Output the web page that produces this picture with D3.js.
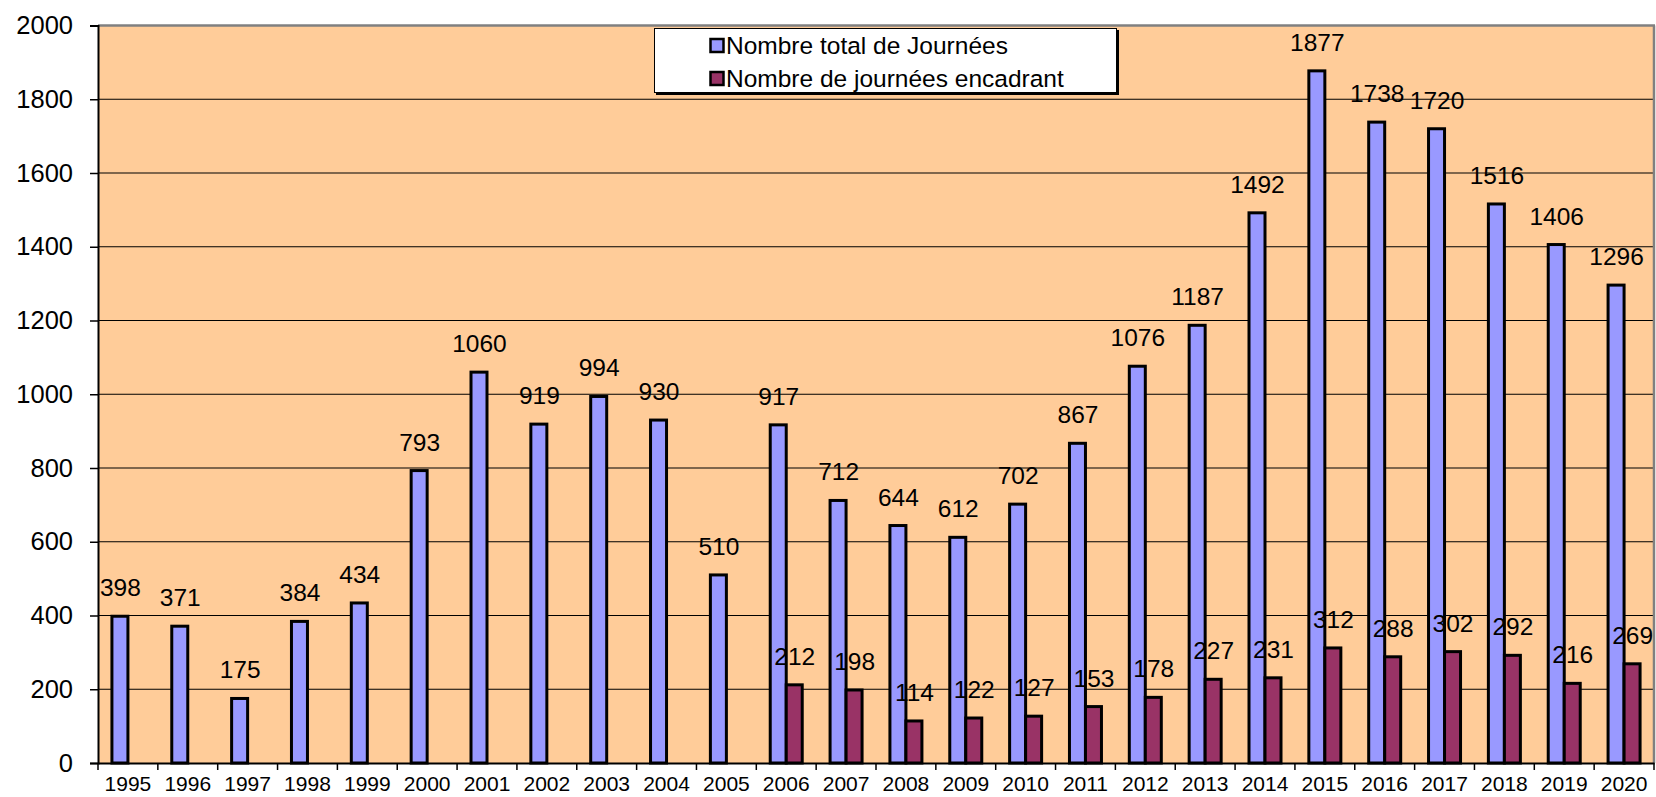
<!DOCTYPE html>
<html><head><meta charset="utf-8">
<script src="https://cdn.jsdelivr.net/npm/d3@7"></script>
<style>
html,body{margin:0;padding:0;background:#fff;}
svg{display:block;font-family:"Liberation Sans",Arial,sans-serif;}
</style></head>
<body><svg id="chart" width="1656" height="797"></svg>
<script>
const years = ["1995","1996","1997","1998","1999","2000","2001","2002","2003","2004","2005","2006","2007","2008","2009","2010","2011","2012","2013","2014","2015","2016","2017","2018","2019","2020"];
const totalDays = [398,371,175,384,434,793,1060,919,994,930,510,917,712,644,612,702,867,1076,1187,1492,1877,1738,1720,1516,1406,1296];
const supervisorDays = [null,null,null,null,null,null,null,null,null,null,null,212,198,114,122,127,153,178,227,231,312,288,302,292,216,269];
const seriesNames = ["Nombre total de Journées","Nombre de journées encadrant"];
const seriesColors = ["#9999FF","#993366"];
const yTicks = [0,200,400,600,800,1000,1200,1400,1600,1800,2000];

const svg = d3.select("#chart");
const L = 98, R = 1654, T = 25.5, B = 763;

const x = d3.scaleBand().domain(years).range([L, R]).padding(0);
const y = d3.scaleLinear().domain([0, 2000]).range([B, T]);
const barW = 16;
const inner = d3.scaleBand().domain([0,1]).range([0, barW*2]);
const off = (x.bandwidth() - barW*2) / 2;

// background
svg.append("rect").attr("x", L).attr("y", T).attr("width", R - L).attr("height", B - T).attr("fill", "#FFCC99");

// gridlines
svg.append("g").selectAll("line").data(yTicks.filter(d => d > 0 && d < 2000)).join("line")
  .attr("x1", L).attr("x2", R).attr("y1", d => y(d)).attr("y2", d => y(d))
  .attr("stroke", "#000").attr("stroke-width", 1.2);

// top and right border (grey)
svg.append("line").attr("x1", L).attr("x2", R + 1).attr("y1", T).attr("y2", T).attr("stroke", "#808080").attr("stroke-width", 2.5);
svg.append("line").attr("x1", R).attr("x2", R).attr("y1", T).attr("y2", B).attr("stroke", "#808080").attr("stroke-width", 2.5);

const series = [totalDays, supervisorDays];
const gBars = svg.append("g");
series.forEach((vals, si) => {
  gBars.append("g").selectAll("rect").data(years.map((yr, i) => ({yr, v: vals[i]})).filter(d => d.v != null)).join("rect")
    .attr("x", d => x(d.yr) + off + inner(si))
    .attr("y", d => y(d.v))
    .attr("width", barW)
    .attr("height", d => B - y(d.v))
    .attr("fill", seriesColors[si])
    .attr("stroke", "#000").attr("stroke-width", 3);
});

// axes
const yAxis = d3.axisLeft(y).tickValues(yTicks).tickSize(8).tickPadding(17).tickFormat(d3.format("d"));
const gy = svg.append("g").attr("transform", `translate(${L},0)`).call(yAxis);
gy.select(".domain").attr("stroke", "#000").attr("stroke-width", 2);
gy.selectAll(".tick line").attr("stroke", "#000").attr("stroke-width", 1.5);
gy.selectAll(".tick text").attr("font-size", 25.5).attr("fill", "#000").attr("font-family", "Liberation Sans, Arial, sans-serif");

const xAxis = d3.axisBottom(x).tickSize(0).tickPadding(0);
const gx = svg.append("g").attr("transform", `translate(0,${B})`).call(xAxis);
gx.select(".domain").attr("stroke", "#000").attr("stroke-width", 2);
gx.selectAll(".tick text").attr("font-size", 21).attr("fill", "#000").attr("dy", null).attr("y", 28)
  .attr("font-family", "Liberation Sans, Arial, sans-serif");
// separator ticks between categories
svg.append("g").selectAll("line").data(years.concat(["end"])).join("line")
  .attr("x1", (d, i) => L + i * x.step()).attr("x2", (d, i) => L + i * x.step())
  .attr("y1", B).attr("y2", B + 7).attr("stroke", "#000").attr("stroke-width", 1.5);

// data labels
const gLab = svg.append("g").attr("font-size", 24.5).attr("text-anchor", "middle").attr("fill", "#000");
series.forEach((vals, si) => {
  gLab.append("g").selectAll("text").data(years.map((yr, i) => ({yr, v: vals[i]})).filter(d => d.v != null)).join("text")
    .attr("x", d => x(d.yr) + off + inner(si) + barW / 2 + 0.5)
    .attr("y", d => y(d.v) - 20)
    .text(d => d.v);
});

// legend
const lg = svg.append("g");
lg.append("rect").attr("x", 656).attr("y", 30).attr("width", 463).attr("height", 65).attr("fill", "#000");
lg.append("rect").attr("x", 654.5).attr("y", 28.5).attr("width", 462).attr("height", 64).attr("fill", "#fff").attr("stroke", "#000").attr("stroke-width", 1);
seriesNames.forEach((name, i) => {
  const yy = 45 + i * 33;
  lg.append("rect").attr("x", 710.5).attr("y", yy - 6).attr("width", 13).attr("height", 13)
    .attr("fill", seriesColors[i]).attr("stroke", "#000").attr("stroke-width", 2.5);
  lg.append("text").attr("x", 726).attr("y", yy + 8.5).attr("font-size", 24.5).attr("fill", "#000").text(name);
});
</script></body></html>
